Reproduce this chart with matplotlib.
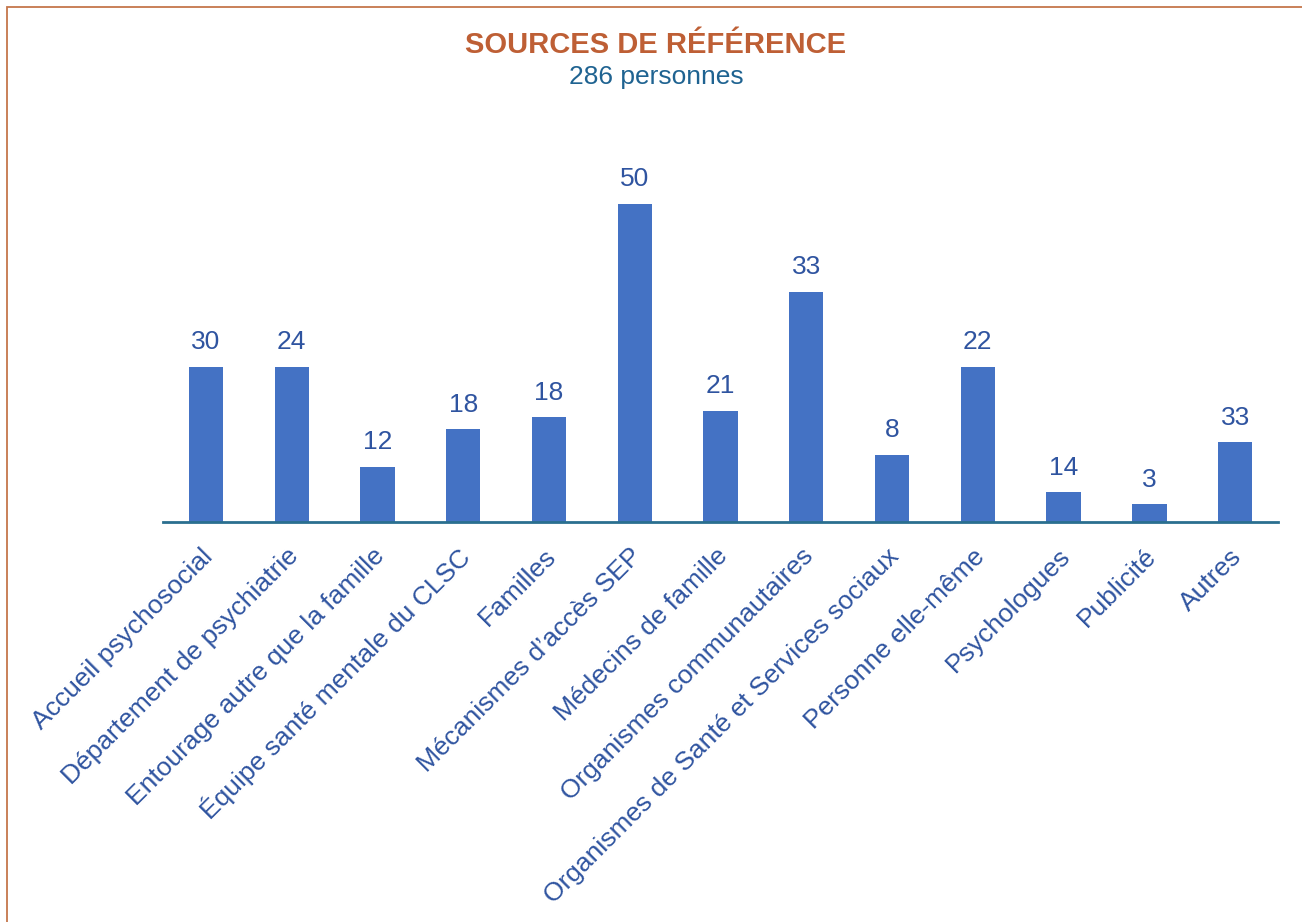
import matplotlib
matplotlib.use("Agg")
from matplotlib import pyplot as plt
from matplotlib.patches import Rectangle
from matplotlib.transforms import ScaledTranslation

categories = [
    "Accueil psychosocial",
    "Département de psychiatrie",
    "Entourage autre que la famille",
    "Équipe santé mentale du CLSC",
    "Familles",
    "Mécanismes d’accès SEP",
    "Médecins de famille",
    "Organismes communautaires",
    "Organismes de Santé et Services sociaux",
    "Personne elle-même",
    "Psychologues",
    "Publicité",
    "Autres",
]
# bar heights as drawn in the source chart (they do not follow the printed numbers)
bar_heights = [24.4, 24.4, 8.7, 14.6, 16.5, 50.0, 17.5, 36.2, 10.6, 24.4, 4.7, 2.8, 12.5]
# numbers printed above the bars
bar_labels = [30, 24, 12, 18, 18, 50, 21, 33, 8, 22, 14, 3, 33]

title = "SOURCES DE RÉFÉRENCE"
subtitle = "286 personnes"

BAR_COLOR = "#4472C4"
TEXT_BLUE = "#2F54A0"
AXIS_COLOR = "#2A6F8F"
TITLE_COLOR = "#BE5F35"
SUBTITLE_COLOR = "#1F6391"
FRAME_COLOR = "#C5764B"

plt.rcParams["font.family"] = ["Liberation Sans", "DejaVu Sans"]

W, H = 1302, 922
fig = plt.figure(figsize=(W / 100, H / 100), dpi=100)

# chart frame (only top and left edges fall inside the picture)
fig.patches.append(Rectangle((7 / W, -0.1), 1.2, 1 - 7 / H + 0.1, transform=fig.transFigure,
                             fill=False, edgecolor=FRAME_COLOR, linewidth=1.3))

ax = fig.add_axes([163 / W, 400 / H, (1278 - 163) / W, 382 / H])
positions = list(range(len(categories)))
bars = ax.bar(positions, bar_heights, width=0.4, color=BAR_COLOR, zorder=2)

for bar, label in zip(bars, bar_labels):
    ax.annotate(str(label), (bar.get_x() + bar.get_width() / 2, bar.get_height()),
                xytext=(0, 12.5), textcoords="offset points", ha="center", va="baseline",
                fontsize=19, color=TEXT_BLUE)

ax.set_xlim(-0.5, len(categories) - 0.5)
ax.set_ylim(0, 60)
ax.set_yticks([])
for side in ("top", "right", "left"):
    ax.spines[side].set_visible(False)
ax.spines["bottom"].set_color(AXIS_COLOR)
ax.spines["bottom"].set_linewidth(2)
ax.spines["bottom"].set_zorder(3)

ax.set_xticks(positions)
ax.set_xticklabels(categories, rotation=45, ha="right", va="center", rotation_mode="anchor",
                   fontsize=19, color=TEXT_BLUE)
ax.tick_params(axis="x", length=0, pad=22)
offset = ScaledTranslation(0.03, 0, fig.dpi_scale_trans)
for tick_label in ax.get_xticklabels():
    tick_label.set_transform(tick_label.get_transform() + offset)

fig.text(656 / W, 1 - 53 / H, title, ha="center", va="baseline", fontsize=21,
         fontweight="bold", color=TITLE_COLOR)
fig.text(656 / W, 1 - 84 / H, subtitle, ha="center", va="baseline", fontsize=19,
         color=SUBTITLE_COLOR)

fig.savefig("out.png", dpi=100)
plt.close(fig)
